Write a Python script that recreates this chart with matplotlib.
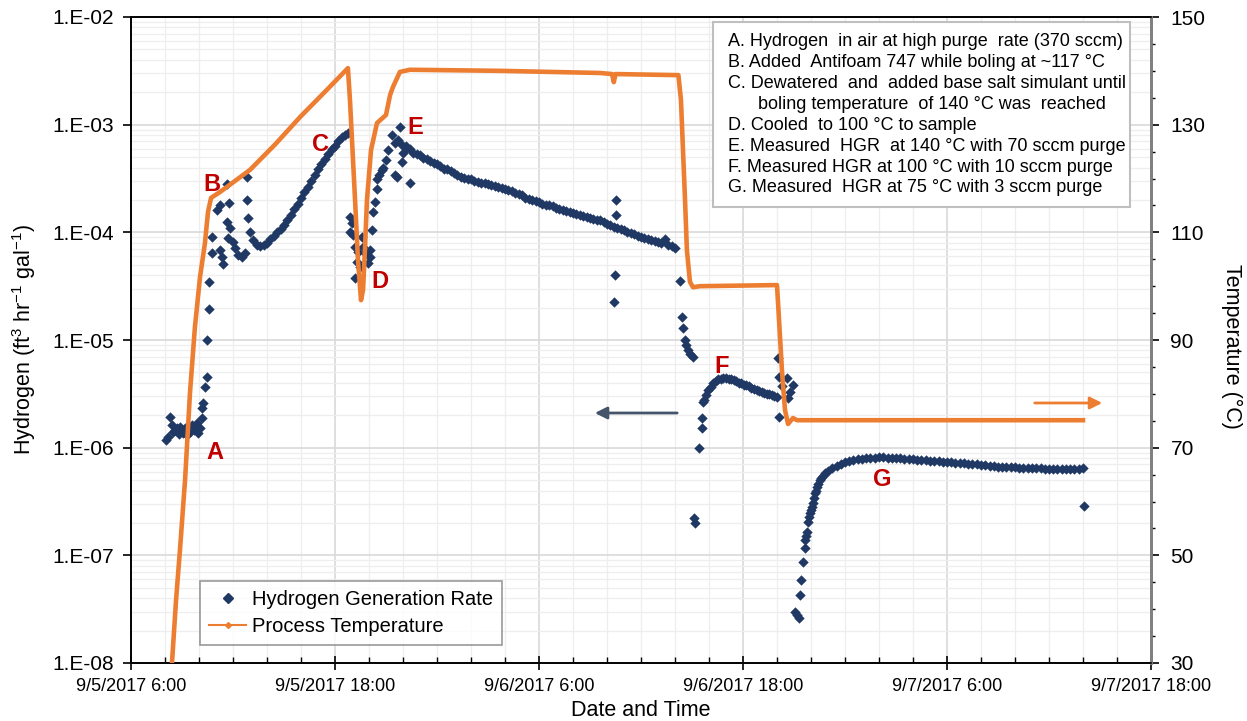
import numpy as np
import pandas as pd
import matplotlib
matplotlib.use('Agg')
import matplotlib.pyplot as plt
import matplotlib.dates as mdates
from matplotlib.ticker import LogLocator, FuncFormatter, FixedLocator, MultipleLocator, NullFormatter
from matplotlib.lines import Line2D
from matplotlib.patches import Rectangle

plt.rcParams['font.family'] = ['Liberation Sans', 'DejaVu Sans']
plt.rcParams['mathtext.default'] = 'regular'

# --- data: hours after 9/5/2017 6:00 ---
temp_hours = [2.41, 2.65, 2.88, 3.18, 3.47, 3.76, 4.06, 4.35, 4.53, 4.71, 5.24, 7.0, 8.5, 9.94,
              11.5, 12.76, 12.88, 13.18, 13.35, 13.53, 13.65, 13.76, 13.88, 14.12, 14.47, 15.0,
              15.24, 15.41, 15.82, 16.41, 21.7, 27.6, 28.3, 28.4, 28.5, 32.2, 32.35, 32.47,
              32.59, 32.7, 32.88, 33.06, 33.47, 38.0, 38.12, 38.29, 38.47, 38.65, 38.94, 39.18, 56.0]
temp_vals = [30.0, 41.7, 51.0, 64.0, 80.2, 92.4, 101.7, 108.0, 113.8, 116.4, 117.5, 121.6, 126.4, 131.4,
             136.4, 140.5, 134.6, 116.0, 104.9, 97.4, 99.3, 106.7, 116.0, 125.3, 130.3, 131.8,
             135.5, 137.0, 139.8, 140.2, 140.0, 139.6, 139.4, 137.9, 139.4, 139.2, 134.6, 125.3,
             116.0, 106.7, 100.8, 99.8, 100.0, 100.2, 93.7, 84.4, 77.0, 74.4, 75.5, 75.1, 75.1]

# A: hydrogen in air, then rise to B
h2_a_hours = [2.06, 2.18, 2.29, 2.41, 2.47, 2.59, 2.71, 2.82, 2.88, 3.0, 3.06, 3.18, 3.29, 3.47, 3.59,
              3.71, 3.88, 3.94, 4.06, 4.18, 4.18, 4.24, 4.35, 4.47, 4.47, 4.59, 4.59, 4.76, 4.76]
h2_a_vals = [1.18e-6, 1.26e-6, 1.93e-6, 1.63e-6, 1.4e-6, 1.46e-6, 1.52e-6, 1.34e-6, 1.56e-6, 1.46e-6,
             1.37e-6, 1.52e-6, 1.31e-6, 1.40e-6, 1.63e-6, 1.46e-6, 1.69e-6, 1.37e-6, 1.52e-6, 1.89e-6,
             2.34e-6, 2.6e-6, 3.66e-6, 4.5e-6, 1.0e-5, 1.94e-5, 3.46e-5, 6.4e-5, 9.05e-5]

# B: antifoam addition
h2_b_hours = [5.06, 5.24, 5.65, 5.76, 5.65, 5.82, 5.71, 6.0, 5.24, 5.35, 5.41, 6.12, 6.29, 6.53, 6.71,
              6.82, 6.82, 6.88, 7.0, 7.18, 7.41]
h2_b_vals = [1.61e-4, 1.79e-4, 2.8e-4, 1.87e-4, 1.25e-4, 1.1e-4, 8.9e-5, 8.1e-5, 6.9e-5, 5.9e-5, 5.1e-5,
             7.2e-5, 6.2e-5, 5.9e-5, 6.4e-5, 3.3e-4, 2.0e-4, 1.36e-4, 1.0e-4, 8.5e-5, 7.6e-5]

# C: dewatering
h2_c_hours = [7.6, 7.8, 8.0, 8.2, 8.4, 8.6, 8.8, 9.0, 9.2, 9.4, 9.6, 9.8, 10.0, 10.2, 10.4, 10.6, 10.8,
              11.0, 11.2, 11.4, 11.6, 11.8, 12.0, 12.2, 12.4, 12.6, 12.76]
h2_c_vals = [7.4e-5, 7.6e-5, 8.0e-5, 8.6e-5, 9.2e-5, 1.0e-4, 1.08e-4, 1.17e-4, 1.3e-4, 1.45e-4, 1.65e-4,
             1.85e-4, 2.1e-4, 2.35e-4, 2.65e-4, 3.0e-4, 3.4e-4, 3.85e-4, 4.3e-4, 4.75e-4, 5.3e-4,
             5.9e-4, 6.4e-4, 7.0e-4, 7.6e-4, 8.1e-4, 8.4e-4]

# D: cooling / reheating
h2_d_hours = [12.88, 13.0, 12.88, 13.06, 13.18, 13.35, 13.59, 13.65, 13.76, 13.94, 14.06, 14.06, 14.18,
              14.24, 14.35, 14.47, 14.47, 14.59, 14.76, 14.82, 15.0, 15.12, 15.35, 15.53, 15.53, 15.82,
              15.71, 15.94, 16.0, 16.24, 16.41, 15.65, 15.94, 13.18, 13.47, 13.29]
h2_d_vals = [1.39e-4, 1.22e-4, 1.0e-4, 9.4e-5, 7.3e-5, 6.6e-5, 9.1e-5, 7.3e-5, 6.4e-5, 5.2e-5, 5.9e-5,
             6.9e-5, 1.05e-4, 1.55e-4, 1.9e-4, 2.5e-4, 3.1e-4, 3.4e-4, 3.8e-4, 4.0e-4, 4.7e-4, 5.8e-4,
             8.0e-4, 6.8e-4, 3.4e-4, 9.5e-4, 7.2e-4, 6.5e-4, 5.5e-4, 6.1e-4, 2.9e-4, 3.3e-4, 4.5e-4,
             3.8e-5, 4.8e-5, 5.3e-5]

# E: 140 C, 70 sccm
h2_e_hours = [16.2, 16.4, 16.6, 16.8, 17.0, 17.2, 17.4, 17.6, 17.8, 18.0, 18.2, 18.4, 18.6, 18.8,
              19.0, 19.2, 19.4, 19.6, 19.8, 20.0, 20.2, 20.4, 20.6, 20.8, 21.0, 21.2, 21.4, 21.6,
              21.8, 22.0, 22.2, 22.4, 22.6, 22.8, 23.0, 23.2, 23.4, 23.6, 23.8, 24.0, 24.2, 24.4,
              24.6, 24.8, 25.0, 25.2, 25.4, 25.6, 25.8, 26.0, 26.2, 26.4, 26.6, 26.8, 27.0, 27.2,
              27.4, 27.6, 27.8, 28.0, 28.2, 28.4, 28.6, 28.8, 29.0, 29.2, 29.4, 29.6, 29.8, 30.0,
              30.2, 30.4, 30.6, 30.8, 31.0, 31.2, 31.4, 31.6, 31.8, 32.0,
              28.53, 28.53, 28.47, 28.41, 32.29]
h2_e_vals = [6.3e-4, 5.9e-4, 5.5e-4, 5.3e-4, 5.2e-4, 4.9e-4, 4.8e-4, 4.6e-4, 4.4e-4, 4.3e-4, 4.1e-4,
             3.9e-4, 3.85e-4, 3.7e-4, 3.55e-4, 3.4e-4, 3.3e-4, 3.2e-4, 3.15e-4, 3.1e-4, 3.0e-4,
             2.95e-4, 2.9e-4, 2.85e-4, 2.8e-4, 2.75e-4, 2.7e-4, 2.65e-4, 2.6e-4, 2.55e-4, 2.45e-4,
             2.4e-4, 2.3e-4, 2.25e-4, 2.2e-4, 2.1e-4, 2.05e-4, 2.0e-4, 1.95e-4, 1.9e-4, 1.85e-4,
             1.8e-4, 1.78e-4, 1.75e-4, 1.7e-4, 1.65e-4, 1.6e-4, 1.58e-4, 1.55e-4, 1.52e-4, 1.48e-4,
             1.45e-4, 1.42e-4, 1.39e-4, 1.36e-4, 1.33e-4, 1.3e-4, 1.3e-4, 1.24e-4, 1.2e-4, 1.16e-4,
             1.13e-4, 1.1e-4, 1.07e-4, 1.04e-4, 1.01e-4, 9.8e-5, 9.6e-5, 9.3e-5, 9.1e-5, 8.9e-5,
             8.7e-5, 8.5e-5, 8.3e-5, 8.1e-5, 8.0e-5, 8.6e-5, 7.6e-5, 7.4e-5, 7.2e-5,
             2.0e-4, 1.45e-4, 4.0e-5, 2.25e-5, 3.5e-5]

# F: 100 C, 10 sccm
h2_f_hours = [32.41, 32.47, 32.59, 32.65, 32.76, 32.88, 33.06, 33.12, 33.18, 33.41, 33.59, 33.59, 33.65,
              33.7, 33.8, 33.95, 34.1, 34.25, 34.4, 34.55, 34.7, 34.85, 35.0, 35.15, 35.3, 35.45, 35.6,
              35.75, 35.9, 36.05, 36.2, 36.35, 36.5, 36.65, 36.8, 36.95, 37.1, 37.25, 37.4, 37.55,
              37.7, 37.85, 38.0, 38.06, 38.12, 38.29, 38.59, 38.94, 38.76, 38.65, 38.12]
h2_f_vals = [1.64e-5, 1.29e-5, 1.0e-5, 9.0e-6, 8.1e-6, 7.4e-6, 6.9e-6, 2.2e-7, 2.0e-7, 1.0e-6, 1.52e-6,
             1.89e-6, 2.65e-6, 2.8e-6, 3.1e-6, 3.4e-6, 3.65e-6, 4.0e-6, 4.15e-6, 4.3e-6, 4.38e-6,
             4.4e-6, 4.4e-6, 4.37e-6, 4.32e-6, 4.22e-6, 4.12e-6, 4.02e-6, 3.95e-6, 3.85e-6, 3.78e-6,
             3.7e-6, 3.62e-6, 3.52e-6, 3.45e-6, 3.38e-6, 3.3e-6, 3.22e-6, 3.17e-6, 3.12e-6, 3.08e-6,
             3.02e-6, 2.95e-6, 6.8e-6, 4.5e-6, 3.7e-6, 4.4e-6, 3.8e-6, 3.3e-6, 2.9e-6, 1.93e-6]

# G: 75 C, 3 sccm
h2_g_hours = [39.06, 39.18, 39.29, 39.35, 39.41, 39.53, 39.65, 39.65, 39.7, 39.76, 39.82, 39.88, 39.94,
              40.0, 40.06, 40.12, 40.18, 40.24, 40.3, 40.35, 40.44, 40.53, 40.6, 40.7, 40.82,
              41.0, 41.25, 41.5, 41.75, 42.0, 42.25, 42.5, 42.75, 43.0, 43.25, 43.5, 43.75, 44.0,
              44.25, 44.5, 44.75, 45.0, 45.25, 45.5, 45.75, 46.0, 46.25, 46.5, 46.75, 47.0, 47.25,
              47.5, 47.75, 48.0, 48.25, 48.5, 48.75, 49.0, 49.25, 49.5, 49.75, 50.0, 50.25, 50.5,
              50.75, 51.0, 51.25, 51.5, 51.75, 52.0, 52.25, 52.5, 52.75, 53.0, 53.25, 53.5, 53.75,
              54.0, 54.25, 54.5, 54.75, 55.0, 55.25, 55.5, 55.75, 56.0, 56.06]
h2_g_vals = [3.0e-8, 2.8e-8, 2.6e-8, 4.3e-8, 5.9e-8, 8.7e-8, 1.17e-7, 1.39e-7, 1.5e-7, 1.65e-7, 2.04e-7,
             2.25e-7, 2.47e-7, 2.65e-7, 2.8e-7, 3.06e-7, 3.4e-7, 3.8e-7, 4.0e-7, 4.3e-7, 4.6e-7,
             5.0e-7, 5.2e-7, 5.4e-7, 5.8e-7,
             6.1e-7, 6.5e-7, 6.8e-7, 7.1e-7, 7.3e-7, 7.5e-7, 7.7e-7, 7.8e-7, 7.9e-7, 8.0e-7, 8.05e-7,
             8.1e-7, 8.15e-7, 8.2e-7, 8.1e-7, 8.1e-7, 8.05e-7, 8.0e-7, 7.9e-7, 7.85e-7, 7.8e-7,
             7.7e-7, 7.65e-7, 7.6e-7, 7.55e-7, 7.5e-7, 7.45e-7, 7.4e-7, 7.4e-7, 7.3e-7, 7.25e-7,
             7.2e-7, 7.15e-7, 7.1e-7, 7.05e-7, 7.0e-7, 6.95e-7, 6.9e-7, 6.8e-7, 6.7e-7, 6.65e-7,
             6.6e-7, 6.6e-7, 6.55e-7, 6.55e-7, 6.5e-7, 6.5e-7, 6.5e-7, 6.5e-7, 6.45e-7, 6.45e-7,
             6.4e-7, 6.4e-7, 6.35e-7, 6.35e-7, 6.3e-7, 6.3e-7, 6.3e-7, 6.35e-7, 6.4e-7, 6.5e-7, 2.9e-7]

# event letters and where they sit (hours, H2 value)
event_letters = ['A', 'B', 'C', 'D', 'E', 'F', 'G']
event_hours = [4.94, 4.76, 11.12, 14.65, 16.71, 34.76, 44.18]
event_vals = [9.1e-7, 2.8e-4, 6.5e-4, 3.46e-5, 9.5e-4, 5.7e-6, 5.1e-7]

temp_ticks = [30, 50, 70, 90, 110, 130, 150]

notes = ['A. Hydrogen  in air at high purge  rate (370 sccm)',
         'B. Added  Antifoam 747 while boling at ~117 \u00b0C',
         'C. Dewatered  and  added base salt simulant until',
         '      boling temperature  of 140 \u00b0C was  reached',
         'D. Cooled  to 100 \u00b0C to sample',
         'E. Measured  HGR  at 140 \u00b0C with 70 sccm purge',
         'F. Measured HGR at 100 \u00b0C with 10 sccm purge',
         'G. Measured  HGR at 75 \u00b0C with 3 sccm purge']

navy = '#1F3864'
orange = '#ED7D31'
red = '#C00000'

start = pd.Timestamp('2017-09-05 06:00')


def to_time(hours):
    return (start + pd.to_timedelta(np.asarray(hours), unit='h')).to_pydatetime()


fig = plt.figure(figsize=(12.47, 7.21), dpi=100)
ax = fig.add_axes([131/1247, 1 - 663/721, 1020/1247, 646/721])
ax2 = ax.twinx()

segments = [(h2_a_hours, h2_a_vals), (h2_b_hours, h2_b_vals), (h2_c_hours, h2_c_vals),
            (h2_d_hours, h2_d_vals), (h2_e_hours, h2_e_vals), (h2_f_hours, h2_f_vals),
            (h2_g_hours, h2_g_vals)]
for hrs, vals in segments:
    ax.scatter(to_time(hrs), vals, marker='D', s=28, color=navy, linewidths=0, zorder=3)

ax2.plot(to_time(temp_hours), temp_vals, color=orange, lw=3.3, solid_joinstyle='round', zorder=3)

# left axis
ax.set_yscale('log')
ax.set_ylim(1e-8, 1e-2)
ax.set_xlim(start.to_pydatetime(), (start + pd.Timedelta(hours=60)).to_pydatetime())
ax.yaxis.set_major_locator(LogLocator(base=10, numticks=10))
ax.yaxis.set_minor_locator(LogLocator(base=10, subs=np.arange(2, 10), numticks=20))
ax.yaxis.set_minor_formatter(NullFormatter())
ax.yaxis.set_major_formatter(FuncFormatter(lambda v, p: '1.E%+03d' % round(np.log10(v))))
ax.xaxis.set_major_locator(mdates.HourLocator(byhour=[6, 18]))
ax.xaxis.set_minor_locator(mdates.HourLocator(byhour=range(0, 24, 2)))


def date_fmt(x, pos):
    d = mdates.num2date(x)
    return f'{d.month}/{d.day}/{d.year} {d.hour}:{d.minute:02d}'


ax.xaxis.set_major_formatter(FuncFormatter(date_fmt))
ax.tick_params(axis='y', which='major', direction='out', length=6, width=1.2, labelsize=15, pad=6)
ax.tick_params(axis='y', which='minor', length=0)
ax.tick_params(axis='x', which='major', direction='inout', length=10, width=1.2, labelsize=13, pad=6)
ax.tick_params(axis='x', which='minor', direction='in', length=4, width=1.0)
ax.grid(which='major', color='#D9D9D9', lw=1.2)
ax.grid(which='minor', color='#EEEEEE', lw=0.9)
ax.set_axisbelow(True)

# right axis
ax2.set_ylim(30, 150)
ax2.yaxis.set_major_locator(FixedLocator(temp_ticks))
ax2.yaxis.set_minor_locator(MultipleLocator(5))
ax2.tick_params(axis='y', which='major', direction='out', length=6, width=1.2, labelsize=15, pad=8)
ax2.tick_params(axis='y', which='minor', direction='out', length=3, width=1.0)

for a in (ax, ax2):
    for s in ('left', 'bottom', 'top'):
        a.spines[s].set_color('black')
        a.spines[s].set_linewidth(1.2)
    a.spines['right'].set_color('#808080')
    a.spines['right'].set_linewidth(2.0)

ax.set_xlabel('Date and Time', fontsize=15.5)
ax.xaxis.set_label_coords(0.5, -0.073)
ax.xaxis.label.set_va('center')
ax.set_ylabel('Hydrogen (ft$^3$ hr$^{-1}$ gal$^{-1}$)', fontsize=15.5)
ax.yaxis.set_label_coords(-0.105, 0.5)
ax.yaxis.label.set_va('center')
ax2.set_ylabel('Temperature (\u00b0C)', fontsize=15.5, rotation=270)
ax2.yaxis.set_label_coords(1.079, 0.49)
ax2.yaxis.label.set_va('center')

# event letters
for lab, hx, vy in zip(event_letters, event_hours, event_vals):
    ax.text(to_time([hx])[0], vy, lab, color=red, fontsize=17, fontweight='bold',
            ha='center', va='center', zorder=6)

# notes box
ax2.add_patch(Rectangle((0.5706, 0.7059), 0.4088, 0.2864, transform=ax2.transAxes,
                        facecolor='white', edgecolor='#BFBFBF', lw=1.5, zorder=5))
for i, line in enumerate(notes):
    ax2.text(0.5853, (663 - 41.7 - 20.9 * i) / 646, line, transform=ax2.transAxes,
             fontsize=13, ha='left', va='center', zorder=6)

# direction arrows
ax2.annotate('', xy=(0.452, 0.387), xytext=(0.5382, 0.387), xycoords='axes fraction',
             arrowprops=dict(arrowstyle='-|>', color='#44546A', lw=2, mutation_scale=18), zorder=6)
ax2.annotate('', xy=(0.9549, 0.4025), xytext=(0.8833, 0.4025), xycoords='axes fraction',
             arrowprops=dict(arrowstyle='-|>', color=orange, lw=2, mutation_scale=18), zorder=6)

handles = [Line2D([], [], ls='none', marker='D', ms=5, color=navy),
           Line2D([], [], color=orange, lw=1.5, marker='D', ms=3)]
leg = ax2.legend(handles, ['Hydrogen Generation Rate', 'Process Temperature'],
                 loc='lower left', bbox_to_anchor=(0.068, 0.028), borderaxespad=0,
                 fontsize=14.5, frameon=True, fancybox=False, edgecolor='#808080',
                 handlelength=1.8, handletextpad=0.3, labelspacing=0.4, borderpad=0.45)
leg.get_frame().set_linewidth(1.2)
leg.set_zorder(7)

fig.savefig('out.png', dpi=100)
